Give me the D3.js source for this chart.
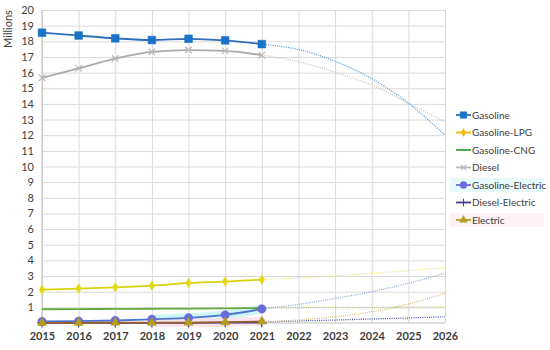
<!DOCTYPE html>
<html>
<head>
<meta charset="utf-8">
<title>Vehicle fleet by fuel type</title>
<script src="https://cdn.jsdelivr.net/npm/d3@7"></script>
<style>
    body { margin: 0; background: #fff; }
    svg text { font-family: Lato, "Open Sans", sans-serif; fill: #404040; }
    .grid line { stroke: #d9d9d9; stroke-width: 1; }
    .grid path { display: none; }
</style>
</head>
<body>
<script>
// data (millions)
var years = [2015, 2016, 2017, 2018, 2019, 2020, 2021];
var trendYears = [2021, 2022, 2023, 2024, 2025, 2026];
var yTicks = d3.range(1, 21);
var xTicks = d3.range(2015, 2027);

var gasoline = [18.55, 18.37, 18.19, 18.08, 18.16, 18.06, 17.82];
var gasolineLPG = [2.13, 2.2, 2.28, 2.39, 2.56, 2.65, 2.77];
var gasolineCNG = [0.88, 0.89, 0.9, 0.91, 0.92, 0.94, 0.96];
var diesel = [15.67, 16.27, 16.9, 17.33, 17.44, 17.39, 17.11];
var gasolineElectric = [0.1, 0.12, 0.16, 0.24, 0.33, 0.52, 0.9];
var dieselElectric = [0.01, 0.01, 0.01, 0.01, 0.01, 0.02, 0.03];
var electric = [0.01, 0.01, 0.02, 0.02, 0.03, 0.05, 0.1];

// dotted trend lines, 2021-2026
var gasolineTrend = [17.82, 17.48, 16.72, 15.62, 14.05, 12.0];
var dieselTrend = [17.11, 16.7, 16.02, 15.2, 14.05, 12.85];
var lpgTrend = [2.77, 2.88, 3.01, 3.17, 3.34, 3.53];
var cngTrend = [0.98, 0.99, 1.0, 1.0, 1.01, 1.02];
var gasElecTrend = [0.9, 1.19, 1.57, 2.0, 2.54, 3.18];
var dieselElecTrend = [0.06, 0.13, 0.19, 0.26, 0.32, 0.4];
var electricTrend = [0.08, 0.19, 0.4, 0.72, 1.21, 1.9];

var w = 550, h = 350;
var mLeft = 42, mRight = 445, mTop = 10, mBottom = 323;

var svg = d3.select("body").append("svg")
    .attr("width", w)
    .attr("height", h);

var x = d3.scaleLinear().domain([2015, 2026]).range([mLeft, mRight]);
var y = d3.scaleLinear().domain([0, 20]).range([mBottom, mTop]);

// gridlines + axis labels
svg.append("g")
    .attr("class", "grid")
    .attr("transform", "translate(" + mLeft + ",0)")
    .call(d3.axisLeft(y).tickValues(yTicks).tickSize(-(mRight - mLeft)).tickPadding(8))
    .call(function(g) { g.selectAll("text").attr("font-size", "11px"); });

svg.append("g")
    .attr("class", "grid")
    .attr("transform", "translate(0," + mBottom + ")")
    .call(d3.axisBottom(x).tickValues(xTicks).tickFormat(d3.format("d")).tickSize(-(mBottom - mTop)).tickPadding(9))
    .call(function(g) { g.selectAll("text").attr("font-size", "11px").style("font-weight", "bold"); });

// axis lines
svg.append("line").attr("x1", mLeft).attr("x2", mLeft).attr("y1", mTop).attr("y2", mBottom)
    .attr("stroke", "#bfbfbf");
svg.append("line").attr("x1", mLeft).attr("x2", mRight).attr("y1", mBottom).attr("y2", mBottom)
    .attr("stroke", "#bfbfbf");

svg.append("text")
    .attr("transform", "translate(12,29) rotate(-90)")
    .attr("text-anchor", "middle")
    .attr("font-size", "11px")
    .text("Millions");

var series = [
    {name: "Gasoline", values: gasoline, trend: gasolineTrend, color: "#2f6fb8", marker: "#1a72c9", trendColor: "#5b9bd5", legend: "#1a72c9", symbol: d3.symbolSquare, size: 60},
    {name: "Gasoline-LPG", values: gasolineLPG, trend: lpgTrend, color: "#d8d20a", marker: "#e2d80c", trendColor: "#ece58a", legend: "#f2b70a", symbol: d3.symbolDiamond, size: 26},
    {name: "Gasoline-CNG", values: gasolineCNG, trend: cngTrend, color: "#62a83c", marker: null, trendColor: "#b7c67a", legend: "#3aa23a", symbol: null, size: 0},
    {name: "Diesel", values: diesel, trend: dieselTrend, color: "#aaaaaa", marker: "#b8b8b8", trendColor: "#c8c8c8", legend: "#b8b8b8", symbol: d3.symbolX, size: 30},
    {name: "Gasoline-Electric", values: gasolineElectric, trend: gasElecTrend, color: "#4a74cc", marker: "#6a6ad8", trendColor: "#93a9dc", legend: "#6a6ad8", symbol: d3.symbolCircle, size: 56, glow: "#c4f2f7"},
    {name: "Diesel-Electric", values: dieselElectric, trend: dieselElecTrend, color: "#3c3c8c", marker: "#3c3c8c", trendColor: "#4b55a8", legend: "#3c3c8c", symbol: d3.symbolPlus, size: 30},
    {name: "Electric", values: electric, trend: electricTrend, color: "#9c5f2c", marker: "#b59e1e", trendColor: "#dcbd7e", legend: "#b59e1e", symbol: d3.symbolTriangle, size: 36, glow: "#fbdde6"}
];

function strokedSymbol(s) {
    return s.symbol === d3.symbolX || s.symbol === d3.symbolPlus;
}

var line = d3.line()
    .x(function(d) { return x(d[0]); })
    .y(function(d) { return y(d[1]); })
    .curve(d3.curveMonotoneX);

var trendLine = d3.line()
    .x(function(d) { return x(d[0]); })
    .y(function(d) { return y(d[1]); })
    .curve(d3.curveCatmullRom);

// trend lines (dotted)
series.forEach(function(s) {
    svg.append("path")
        .datum(d3.zip(trendYears, s.trend))
        .attr("d", trendLine)
        .attr("fill", "none")
        .attr("stroke", s.trendColor)
        .attr("stroke-width", 1.3)
        .attr("stroke-dasharray", "1,1.2");
});

// glow behind some series
series.forEach(function(s) {
    if (!s.glow) return;
    svg.append("path")
        .datum(d3.zip(years, s.values).slice(3))
        .attr("d", line)
        .attr("fill", "none")
        .attr("stroke", s.glow)
        .attr("stroke-width", 9)
        .attr("stroke-linecap", "round")
        .attr("opacity", 0.8);
});

// data lines and markers
series.forEach(function(s) {
    var pts = d3.zip(years, s.values);
    svg.append("path")
        .datum(pts)
        .attr("d", line)
        .attr("fill", "none")
        .attr("stroke", s.color)
        .attr("stroke-width", 1.8);

    if (s.symbol) {
        svg.selectAll(null)
            .data(pts)
            .enter()
            .append("path")
            .attr("transform", function(d) { return "translate(" + x(d[0]) + "," + y(d[1]) + ")"; })
            .attr("d", d3.symbol().type(s.symbol).size(s.size))
            .attr("fill", strokedSymbol(s) ? "none" : s.marker)
            .attr("stroke", s.marker)
            .attr("stroke-width", strokedSymbol(s) ? 1.2 : 0.5);
    }
});

// legend
var legend = svg.append("g").attr("transform", "translate(456,115)");
series.forEach(function(s, i) {
    var g = legend.append("g").attr("transform", "translate(0," + (i * 17.5) + ")");
    if (s.glow) {
        g.append("rect").attr("x", -6).attr("y", -7).attr("width", 94).attr("height", 14)
            .attr("fill", s.glow).attr("opacity", 0.4);
    }
    g.append("line").attr("x1", 0).attr("x2", 15).attr("y1", 0).attr("y2", 0)
        .attr("stroke", s.legend).attr("stroke-width", 1.8);
    if (s.symbol) {
        g.append("path")
            .attr("transform", "translate(7.5,0)")
            .attr("d", d3.symbol().type(s.symbol).size(s.size * 0.7))
            .attr("fill", strokedSymbol(s) ? "none" : s.legend)
            .attr("stroke", s.legend)
            .attr("stroke-width", strokedSymbol(s) ? 1.1 : 0.5);
    }
    g.append("text")
        .attr("x", 16)
        .attr("y", 0)
        .attr("dy", "0.35em")
        .attr("font-size", "10px")
        .text(s.name);
});
</script>
</body>
</html>
